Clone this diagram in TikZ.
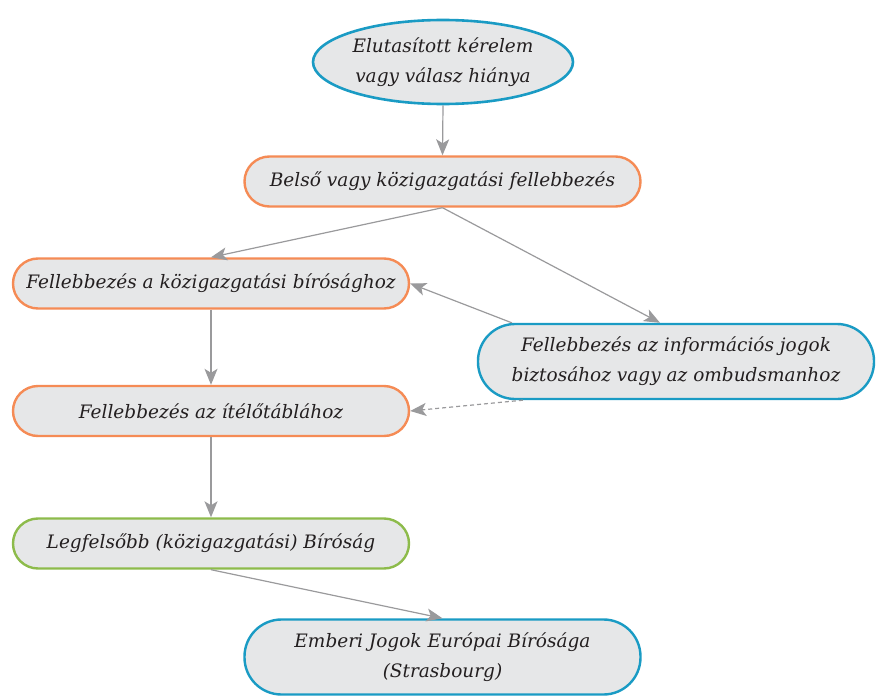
\documentclass[tikz,border=0pt]{standalone}
\usepackage{fontspec}
\setmainfont{DejaVu Serif}
\usetikzlibrary{arrows.meta,calc,shapes.geometric}
\definecolor{boxfill}{HTML}{E6E7E8}
\definecolor{cblue}{HTML}{1A9BC4}
\definecolor{corange}{HTML}{F58B55}
\definecolor{cgreen}{HTML}{8DBB4B}
\definecolor{carrow}{HTML}{9A9A9C}
\definecolor{ctext}{HTML}{231F20}
\tikzset{
  x=1pt,y=-1pt,
  txt/.style={font=\fontsize{18.5}{30}\selectfont\itshape, text=ctext, align=center},
  box/.style={txt, draw, fill=boxfill, line width=2.4pt, minimum width=396pt, minimum height=50pt, rounded corners=25pt, inner sep=0pt},
  tallbox/.style={box, minimum height=75pt, rounded corners=37pt},
  obox/.style={box, draw=corange},
  bbox/.style={tallbox, draw=cblue},
  gbox/.style={box, draw=cgreen},
  conn/.style={draw=carrow, line width=1.2pt, -{Stealth[length=16pt,width=13pt,inset=4pt]}, color=carrow},
}
\begin{document}
\begin{tikzpicture}
\useasboundingbox (0,0) rectangle (879,696);
\node[txt, ellipse, draw=cblue, fill=boxfill, line width=2.6pt, minimum width=260pt, minimum height=84pt, inner sep=0pt] (e) at (443,62) {Elutasított kérelem\\vagy válasz hiánya};
\node[obox] (b1) at (442.5,181.5) {Belső vagy közigazgatási fellebbezés};
\node[obox] (b2) at (211,283.5) {Fellebbezés a közigazgatási bírósághoz};
\node[bbox] (b3) at (676,361.5) {Fellebbezés az információs jogok\\biztosához vagy az ombudsmanhoz};
\node[obox] (b4) at (211,411) {Fellebbezés az ítélőtáblához};
\node[gbox] (b5) at (211,543.5) {Legfelsőbb (közigazgatási) Bíróság};
\node[bbox] (b6) at (442.5,657) {Emberi Jogok Európai Bírósága\\(Strasbourg)};
\draw[conn] (e.south) -- (b1.north);
\draw[conn] (b1.south) -- (b2.north);
\draw[conn] (b1.south) -- ($(b3.north)+(-16,0)$);
\draw[conn] ($(b3.north west)+(35,0)$) -- (b2.east);
\draw[conn] (b2.south) -- (b4.north);
\draw[conn, dashed, dash pattern=on 4pt off 3pt] ($(b3.south west)+(46,0)$) -- (b4.east);
\draw[conn] (b4.south) -- (b5.north);
\draw[conn] (b5.south) -- (b6.north);
\end{tikzpicture}
\end{document}
